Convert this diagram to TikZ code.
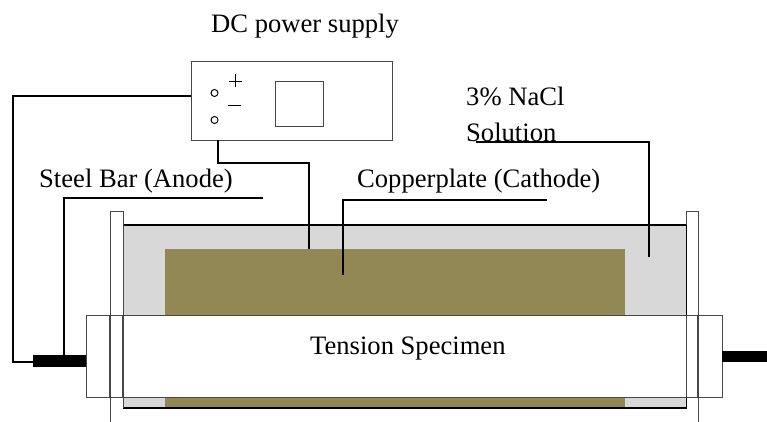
\documentclass[tikz,border=0pt]{standalone}
\usepackage{fontspec}
\setmainfont{Liberation Serif}
\definecolor{tankgray}{RGB}{216,216,216}
\definecolor{copper}{RGB}{146,136,83}
\definecolor{linegray}{RGB}{70,70,70}
\tikzset{
  px/.style={x=1pt,y=-1pt},
  wire/.style={draw=black,line width=2pt,line cap=butt,line join=miter},
  label/.style={anchor=base west,inner sep=0pt,font=\fontsize{26.6}{30}\selectfont,text=black},
  bar/.style={fill=black,draw=none},
  terminal/.style={draw=black,line width=1pt,fill=white}
}
\begin{document}
\begin{tikzpicture}[px]
\useasboundingbox (0,0) rectangle (767,422);
% tank and plate
\fill[tankgray] (123,225) rectangle (687,408);
\fill[copper] (165,249) rectangle (625,408);
% named points
\coordinate (supL) at (191,96.5);
\coordinate (supB) at (218,140);
\coordinate (anodeL) at (33,361.5);
\coordinate (anodeT) at (64,355);
\coordinate (anodeEnd) at (263,198);
\coordinate (cuTop) at (309,249);
\coordinate (cuLead) at (343,275);
\coordinate (cuEnd) at (547,200);
\coordinate (solA) at (476,142);
\coordinate (solB) at (649,257);
% tank edges
\draw[black,line width=1.1pt] (123,225) -- (687,225);
\draw[black,line width=1.2pt] (123,408) -- (687,408);
\draw[linegray,line width=1pt] (123,225) -- (123,408);
\draw[black,line width=1pt] (686.5,225) -- (686.5,408);
% end plates
\draw[linegray,line width=1pt] (123,225) -- (123,211) -- (110,211) -- (110,422);
\draw[linegray,line width=1pt] (686.5,225) -- (686.5,211) -- (698,211) -- (698,422);
% specimen
\fill[white] (86,315) rectangle (722,397);
\draw[linegray,line width=1.1pt] (110,315) -- (110,397) (123,315) -- (123,397) (686.5,315) -- (686.5,397) (698,315) -- (698,397);
\node[draw=linegray,line width=1.1pt,minimum width=636pt,minimum height=82pt,inner sep=0pt,anchor=north west] (specimen) at (86,315) {};
\node[label] (specimenText) at (310,354) {Tension Specimen};
% bars
\node[bar,minimum width=53pt,minimum height=12pt,inner sep=0pt,anchor=north west] (anodeBar) at (33,355) {};
\node[bar,minimum width=45pt,minimum height=11pt,inner sep=0pt,anchor=north west] (rightBar) at (722,351) {};
% power supply
\node[draw=linegray,line width=1.1pt,minimum width=201pt,minimum height=79pt,inner sep=0pt,anchor=north west] (supply) at (191,61) {};
\node[draw=linegray,line width=1pt,minimum width=48pt,minimum height=45pt,inner sep=0pt,anchor=north west] (display) at (275,81) {};
\node[terminal,circle,minimum size=7pt,inner sep=0pt] (termA) at (214.5,93) {};
\node[terminal,circle,minimum size=7pt,inner sep=0pt] (termB) at (214.5,120) {};
\draw[black,line width=0.9pt] (229,81) -- (242,81) (235.5,74) -- (235.5,87);
\draw[black,line width=0.9pt] (228,105) -- (241,105);
% wires
\draw[wire] (supL) -- (13,96.5) -- (13,361.5) -- (anodeL);
\draw[wire] (anodeT) -- (64,198) -- (anodeEnd);
\draw[wire] (supB) -- (218,163) -- (309,163) -- (cuTop);
\draw[wire] (cuLead) -- (343,200) -- (cuEnd);
\draw[wire] (solA) -- (649,142) -- (solB);
% labels
\node[label] (dcText) at (211,32.5) {DC power supply};
\node[label] (naclA) at (466,106) {3\% NaCl};
\node[label] (naclB) at (466,142) {Solution};
\node[label] (steelText) at (39,187) {Steel Bar (Anode)};
\node[label] (cuText) at (357,187) {Copperplate (Cathode)};
\end{tikzpicture}
\end{document}
